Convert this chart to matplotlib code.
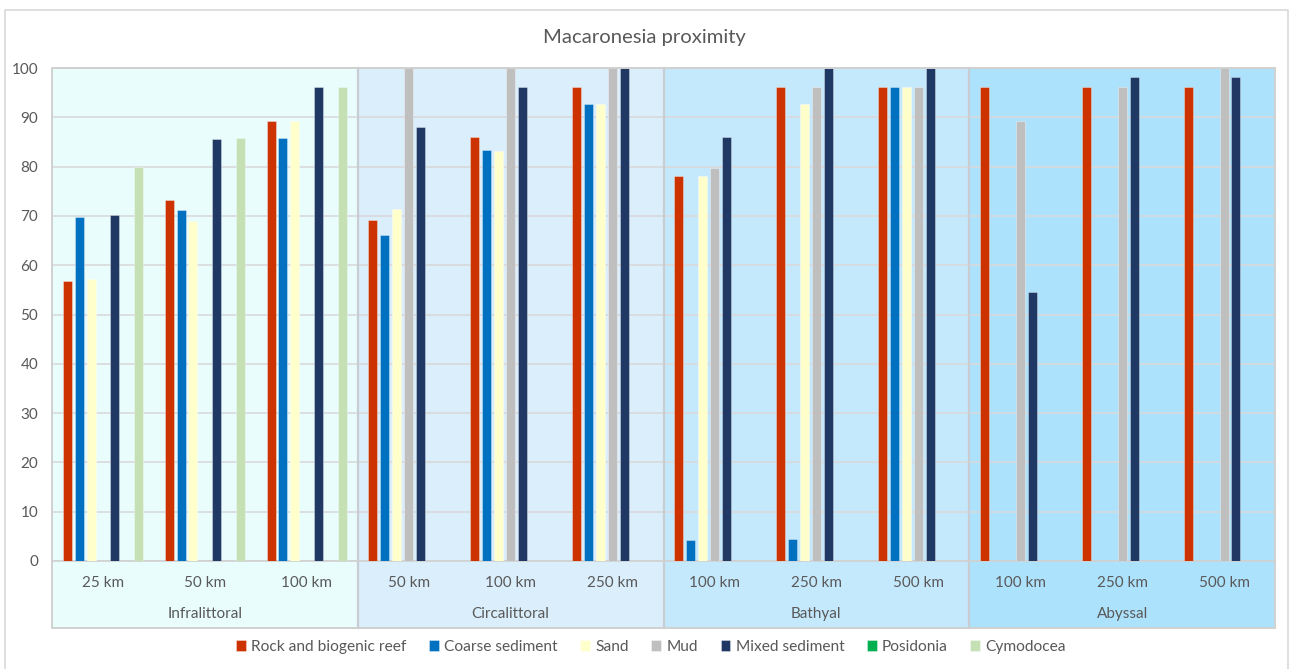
import matplotlib

matplotlib.use("Agg")
import matplotlib.pyplot as plt
import numpy as np
from matplotlib.patches import Rectangle
from matplotlib.lines import Line2D

plt.rcParams["font.family"] = ["Lato", "DejaVu Sans"]

zones = ["Infralittoral", "Circalittoral", "Bathyal", "Abyssal"]
distances = ["25 km", "50 km", "100 km",
             "50 km", "100 km", "250 km",
             "100 km", "250 km", "500 km",
             "100 km", "250 km", "500 km"]
habitats = ["Rock and biogenic reef", "Coarse sediment", "Sand", "Mud",
            "Mixed sediment", "Posidonia", "Cymodocea"]

# one value per distance class (NaN = habitat not present)
nan = np.nan
rock = [56.7, 73.3, 89.2, 69.2, 86.1, 96.1, 78.0, 96.1, 96.1, 96.1, 96.1, 96.1]
coarse = [69.8, 71.2, 85.9, 66.2, 83.4, 92.6, 4.2, 4.4, 96.1, nan, nan, nan]
sand = [57.2, 69.0, 89.2, 71.4, 83.2, 92.6, 78.0, 92.6, 96.1, nan, nan, nan]
mud = [nan, nan, nan, 100, 100, 100, 79.8, 96.1, 96.1, 89.3, 96.1, 100]
mixed = [70.2, 85.5, 96.1, 88.0, 96.1, 100, 86.1, 100, 100, 54.6, 98.1, 98.1]
posidonia = [nan] * 12
cymodocea = [80.0, 85.7, 96.1, nan, nan, nan, nan, nan, nan, nan, nan, nan]

series = [rock, coarse, sand, mud, mixed, posidonia, cymodocea]
colors = ["#CC3300", "#0070C0", "#FFFFCC", "#BFBFBF", "#1F3864", "#00B050", "#C5E0B4"]
zone_colors = ["#E9FDFD", "#DAEEFC", "#C5E9FC", "#ADE2FD"]

W, H = 1289, 669
fig = plt.figure(figsize=(W / 100, H / 100), dpi=100)
ax = fig.add_axes([52 / W, 1 - 561 / H, (1275 - 52) / W, (561 - 68) / H])
ax.set_facecolor("none")

# outer chart border (left, top, right)
fig.add_artist(Line2D([5 / W, 5 / W, 1288 / W, 1288 / W], [0, 1 - 9.5 / H, 1 - 9.5 / H, 0],
                      transform=fig.transFigure, color="#D9D9D9", lw=1.2))

x = np.arange(len(distances))
step, width = 0.117, 0.088
for j, (vals, col) in enumerate(zip(series, colors)):
    ax.bar(x + (j - 3) * step, vals, width=width, color=col, label=habitats[j],
           edgecolor=(1, 1, 1, 0.4), linewidth=0.6, zorder=2)

ax.set_xlim(-0.5, len(distances) - 0.5)
ax.set_ylim(0, 100)
ax.set_yticks(np.arange(0, 101, 10))
ax.set_xticks([])
ax.tick_params(axis="y", length=0, pad=10, labelsize=11, labelcolor="#595959")
ax.set_axisbelow(True)
ax.yaxis.grid(True, color="#D9D9D9", lw=1.2)
for s in ax.spines.values():
    s.set_visible(False)

# zone backgrounds reaching down into the label band
tr = ax.get_xaxis_transform()
low = -(628 - 561) / (561 - 68)
for k, (zone, zc) in enumerate(zip(zones, zone_colors)):
    x0 = 3 * k - 0.5
    ax.add_patch(Rectangle((x0, low), 3, 1 - low, transform=tr, facecolor=zc,
                           edgecolor="none", zorder=0, clip_on=False))
    ax.text(x0 + 1.5, -(614 - 561) / (561 - 68), zone, transform=tr, ha="center",
            va="center", fontsize=11, color="#595959")
for b in [2.5, 5.5, 8.5]:
    ax.plot([b, b], [low, 1], transform=tr, color="#C8CDD2", lw=1.6, zorder=1, clip_on=False)
ax.add_patch(Rectangle((-0.5, low), len(distances), 1 - low, transform=tr, facecolor="none",
                       edgecolor="#D0D0D0", lw=1.4, zorder=3, clip_on=False))
ax.plot([-0.5, 11.5], [0, 0], transform=tr, color="#D0D0D0", lw=1.2, zorder=1, clip_on=False)

for xi, lab in zip(x, distances):
    ax.text(xi, -(583 - 561) / (561 - 68), lab, transform=tr, ha="center", va="center",
            fontsize=11, color="#595959")

fig.text(0.5, 1 - 37 / H, "Macaronesia proximity", ha="center", va="center",
         fontsize=14.6, color="#595959")

fig.legend(loc="center", bbox_to_anchor=(651 / W, 1 - 647 / H), ncol=7, frameon=False,
           fontsize=11.2, handlelength=0.62, handleheight=0.62, handletextpad=0.35,
           columnspacing=1.45, labelcolor="#595959")

fig.savefig("out.png", dpi=100)
plt.close(fig)
